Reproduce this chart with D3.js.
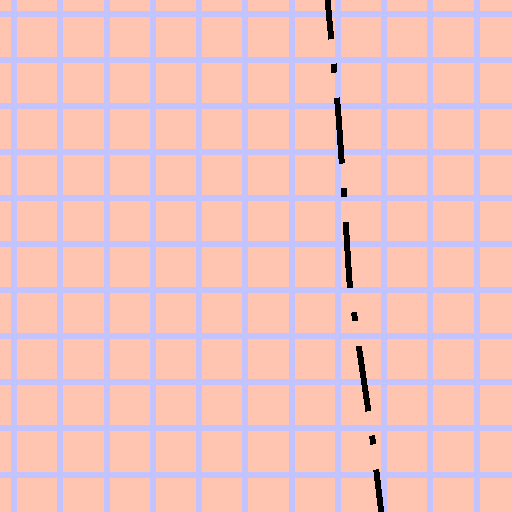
<!DOCTYPE html>
<html>
<head>
<meta charset="utf-8">
<script src="https://cdn.jsdelivr.net/npm/d3@7"></script>
<style>
  html, body { margin: 0; padding: 0; background: #FFC5B0; }
  svg { display: block; }
</style>
</head>
<body>
<svg id="chart" width="512" height="512"></svg>
<script>
// grid tick values (data units)
const xTicks = [0, 1, 2, 3, 4, 5, 6, 7, 8, 9, 10];
const yTicks = [0, 1, 2, 3, 4, 5, 6, 7, 8, 9, 10];
// line series (data units)
const lineY = [-0.30, 0.87, 2.11, 4.00, 5.78, 7.45, 9.29, 10.81];
const lineX = [6.78, 6.89, 7.01, 7.14, 7.25, 7.49, 7.76, 7.94];

const W = 512, H = 512;
const svg = d3.select("#chart");

const x = d3.scaleLinear().domain([0, 10]).range([14, 476.5]);
const y = d3.scaleLinear().domain([0, 10]).range([14, 474.5]);

svg.append("rect").attr("width", W).attr("height", H).attr("fill", "#FFC5B0");

const grid = svg.append("g")
  .attr("stroke", "#C3C3FF")
  .attr("stroke-width", 6)
  .attr("shape-rendering", "crispEdges");
grid.selectAll("line.v").data(xTicks).join("line")
  .attr("class", "v")
  .attr("x1", d => x(d)).attr("x2", d => x(d))
  .attr("y1", 0).attr("y2", H);
grid.selectAll("line.h").data(yTicks).join("line")
  .attr("class", "h")
  .attr("y1", d => y(d)).attr("y2", d => y(d))
  .attr("x1", 0).attr("x2", W);

const pts = lineY.map((v, i) => [lineX[i], v]);
const line = d3.line().x(d => x(d[0])).y(d => y(d[1]));
svg.append("path")
  .datum(pts)
  .attr("d", line)
  .attr("fill", "none")
  .attr("stroke", "#000")
  .attr("stroke-width", 6)
  .attr("stroke-linecap", "butt")
  .attr("shape-rendering", "crispEdges")
  .attr("stroke-dasharray", "66,24.5,9,25.2")
  .attr("stroke-dashoffset", 26.7);
</script>
</body>
</html>
